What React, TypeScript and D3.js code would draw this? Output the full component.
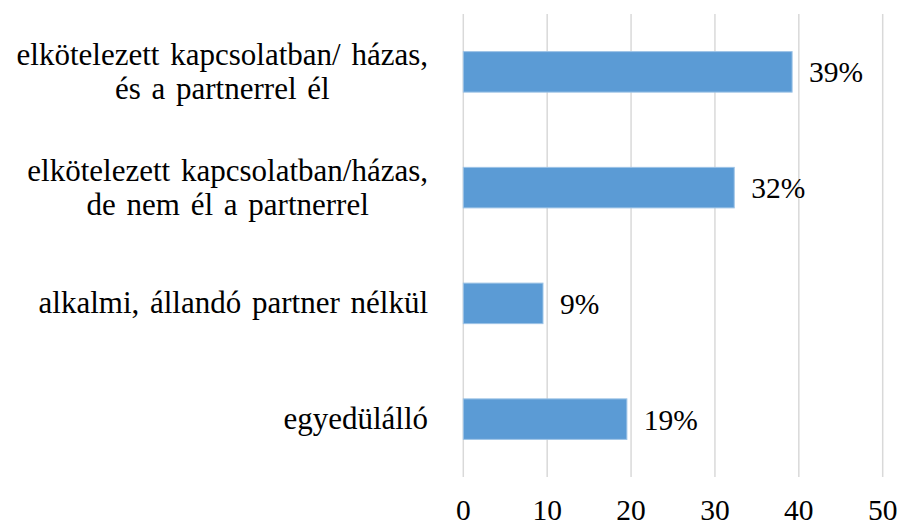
import React, { useRef, useEffect } from "react";
import * as d3 from "d3";

// kategóriák felülről lefelé, sorokra bontva
const categories: string[][] = [
  ["elkötelezett kapcsolatban/ házas,", "és a partnerrel él"],
  ["elkötelezett kapcsolatban/házas,", "de nem él a partnerrel"],
  ["alkalmi, állandó partner nélkül"],
  ["egyedülálló"],
];
const values = [39.2, 32.3, 9.5, 19.5];
const valueLabels = ["39%", "32%", "9%", "19%"];
const xTicks = [0, 10, 20, 30, 40, 50];

const W = 902;
const H = 527;
const FONT = "'Times New Roman', 'Liberation Serif', serif";
const FS = 29.5;
const CAT_FS = 31;

const App = () => {
  const ref = useRef<SVGSVGElement>(null);

  useEffect(() => {
    const svg = d3.select(ref.current);
    svg.selectAll("*").remove();

    const x = d3.scaleLinear().domain([0, 50]).range([463.3, 882.7]);
    const y = d3
      .scaleBand<number>()
      .domain(categories.map((_, i) => i))
      .range([14, 477])
      .paddingInner(0.65)
      .paddingOuter(0.325);

    // rácsvonalak
    svg
      .append("g")
      .selectAll("line")
      .data(xTicks)
      .join("line")
      .attr("x1", (d) => x(d))
      .attr("x2", (d) => x(d))
      .attr("y1", 14)
      .attr("y2", 477)
      .attr("stroke", "#d9d9d9")
      .attr("stroke-width", 1.5);

    // tengelyfeliratok
    svg
      .append("g")
      .selectAll("text")
      .data(xTicks)
      .join("text")
      .attr("x", (d) => x(d))
      .attr("y", 520)
      .attr("text-anchor", "middle")
      .attr("font-size", FS)
      .attr("fill", "#000")
      .text((d) => d);

    // oszlopok
    svg
      .append("g")
      .selectAll("rect")
      .data(values)
      .join("rect")
      .attr("x", x(0))
      .attr("y", (_, i) => y(i)!)
      .attr("width", (d) => x(d) - x(0))
      .attr("height", y.bandwidth())
      .attr("fill", "#5b9bd5")
      .attr("stroke", "#9dc3e6")
      .attr("stroke-width", 1);

    // értékcímkék
    svg
      .append("g")
      .selectAll("text")
      .data(values)
      .join("text")
      .attr("x", (d) => x(d) + 17)
      .attr("y", (_, i) => y(i)! + y.bandwidth() / 2 + 10.5)
      .attr("font-size", FS)
      .attr("fill", "#000")
      .text((_, i) => valueLabels[i]);

    // kategóriacímkék: jobbra zárt blokk, sorok középre
    const lineH = 34;
    categories.forEach((lines, i) => {
      const cy = y(i)! + y.bandwidth() / 2;
      const g = svg.append("g");
      const t = g
        .append("text")
        .attr("text-anchor", "middle")
        .attr("font-size", CAT_FS)
        .attr("word-spacing", 3)
        .attr("fill", "#000");
      const y0 = cy + 10 - ((lines.length - 1) * lineH) / 2;
      lines.forEach((ln, j) => {
        t.append("tspan").attr("x", 0).attr("y", y0 + j * lineH).text(ln);
      });
      const maxW = d3.max(
        t.selectAll<SVGTSpanElement, unknown>("tspan").nodes(),
        (n) => n.getComputedTextLength()
      ) || 0;
      g.attr("transform", `translate(${428 - maxW / 2},0)`);
    });
  }, []);

  return (
    <svg
      ref={ref}
      width={W}
      height={H}
      style={{
        position: "absolute",
        left: 0,
        top: 0,
        background: "#fff",
        fontFamily: FONT,
      }}
    />
  );
};

export default App;
